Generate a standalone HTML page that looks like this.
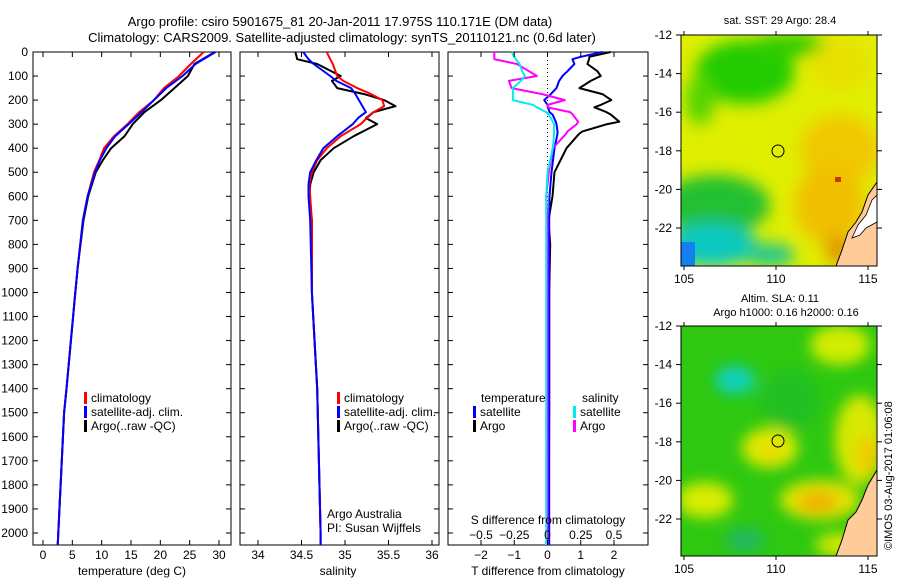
<!DOCTYPE html>
<html><head><meta charset="utf-8"><style>
html,body{margin:0;padding:0;background:#fff}
svg{display:block;font-family:"Liberation Sans",sans-serif}
text{fill:#000}
</style></head><body>
<svg id="fig" width="900" height="580" viewBox="0 0 900 580">
<defs>
<filter id="blur1" x="-20%" y="-20%" width="140%" height="140%"><feGaussianBlur stdDeviation="8"/></filter>
<filter id="blur2" x="-20%" y="-20%" width="140%" height="140%"><feGaussianBlur stdDeviation="7"/></filter>
<clipPath id="clipA"><rect x="681" y="35" width="196" height="231"/></clipPath>
<clipPath id="clipB"><rect x="681" y="326" width="196" height="230"/></clipPath>
</defs>
<text x="340" y="26" font-size="13" text-anchor="middle">Argo profile: csiro 5901675_81 20-Jan-2011 17.975S 110.171E (DM data)</text>
<text x="342" y="42" font-size="13" text-anchor="middle">Climatology: CARS2009. Satellite-adjusted climatology: synTS_20110121.nc (0.6d later)</text>

<g id="p1"></g>
<g id="p2"></g>
<g id="p3"></g>

<!-- SST map -->
<g>
<text x="780" y="24" font-size="11" text-anchor="middle">sat. SST: 29 Argo: 28.4</text>
<g clip-path="url(#clipA)">
<rect x="681" y="35" width="196" height="231" fill="#e0ee00"/>
<g filter="url(#blur1)">
<ellipse cx="745" cy="72" rx="50" ry="32" fill="#22cc00"/>
<ellipse cx="700" cy="100" rx="15" ry="25" fill="#55d400"/>
<ellipse cx="790" cy="45" rx="40" ry="12" fill="#33cc00"/>
<ellipse cx="840" cy="65" rx="30" ry="25" fill="#e8e000"/>
<ellipse cx="840" cy="150" rx="40" ry="35" fill="#f0c800"/>
<ellipse cx="830" cy="205" rx="35" ry="40" fill="#f0c000"/>
<ellipse cx="715" cy="205" rx="55" ry="30" fill="#22c030"/>
<ellipse cx="712" cy="245" rx="45" ry="22" fill="#11c8c0"/>
<ellipse cx="770" cy="255" rx="25" ry="12" fill="#22c890"/>
<ellipse cx="838" cy="250" rx="12" ry="15" fill="#e09000"/>
</g>
<rect x="681" y="242" width="14" height="24" fill="#1580f0"/>
<rect x="835" y="177" width="6" height="5" fill="#c04000"/>
<path d="M877,182 L868,195 L862,212 L856,222 L848,232 L842,250 L836,266 L877,266 Z" fill="#ffcc99" stroke="#000" stroke-width="1"/>
<path d="M877,195 L872,200 L866,215 L858,225 L852,238 L860,235 L866,228 L877,222 Z" fill="#fff" stroke="#000" stroke-width="0.8"/>
</g>
<rect x="681" y="35" width="196" height="231" fill="none" stroke="#000" stroke-width="1"/>
<circle cx="778" cy="151" r="6" fill="none" stroke="#000" stroke-width="1"/>
</g>

<!-- SLA map -->
<g>
<text x="780" y="302" font-size="11" text-anchor="middle">Altim. SLA: 0.11</text>
<text x="786" y="316" font-size="11" text-anchor="middle">Argo h1000: 0.16 h2000: 0.16</text>
<g clip-path="url(#clipB)">
<rect x="681" y="326" width="196" height="230" fill="#2ec810"/>
<g filter="url(#blur2)">
<ellipse cx="840" cy="345" rx="30" ry="20" fill="#d0ec00"/>
<ellipse cx="735" cy="380" rx="20" ry="14" fill="#10d0c0"/>
<ellipse cx="770" cy="448" rx="28" ry="20" fill="#e0ea00"/>
<ellipse cx="770" cy="452" rx="12" ry="8" fill="#ecd800"/>
<ellipse cx="860" cy="440" rx="25" ry="45" fill="#d8e800"/>
<ellipse cx="868" cy="455" rx="10" ry="20" fill="#f0c800"/>
<ellipse cx="820" cy="500" rx="40" ry="20" fill="#e0e400"/>
<ellipse cx="818" cy="502" rx="20" ry="11" fill="#f0b000"/>
<ellipse cx="705" cy="500" rx="28" ry="18" fill="#d8ec00"/>
<ellipse cx="745" cy="540" rx="20" ry="12" fill="#22b860"/>
<ellipse cx="840" cy="545" rx="25" ry="12" fill="#d0e800"/>
<ellipse cx="790" cy="400" rx="30" ry="30" fill="#20c020"/>
</g>
<path d="M877,470 L868,485 L862,500 L856,512 L848,520 L842,540 L836,556 L877,556 Z" fill="#ffcc99" stroke="#000" stroke-width="1"/>
</g>
<rect x="681" y="326" width="196" height="230" fill="none" stroke="#000" stroke-width="1"/>
<circle cx="778" cy="441" r="6" fill="none" stroke="#000" stroke-width="1"/>
</g>
<g id="maps-axes"></g>
<text transform="translate(892,550) rotate(-90)" font-size="11">©IMOS 03-Aug-2017 01:06:08</text>
</svg>
<script>
// ---- data ----
const tDepth = [0,50,100,150,200,250,300,350,400,450,500,600,700,900,1000,1400,1500,2000,2050];
const tClim  = [27.4,25.2,23.2,20.6,18.9,16.4,14.4,12.1,10.4,9.6,8.7,7.6,6.8,5.9,5.5,4.0,3.6,2.6,2.5];
const tSat   = [29.4,26.0,23.8,21.0,18.9,16.8,14.6,12.3,10.8,9.7,8.9,7.6,6.8,5.9,5.5,4.0,3.6,2.6,2.5];
const tArgo  = [29.3,25.8,24.7,22.4,20.1,17.3,15.3,13.9,11.6,10.2,9.0,7.7,6.9,5.9,5.5,4.0,3.6,2.6,2.5];

const sDepth = [0,30,50,100,120,150,175,200,225,250,275,300,350,400,450,500,550,600,700,1000,1400,2000,2050];
const sClim  = [34.79,34.83,34.86,34.91,34.98,35.14,35.3,35.43,35.45,35.33,35.25,35.18,34.95,34.79,34.68,34.62,34.59,34.6,34.62,34.62,34.68,34.72,34.72];
const sSat   = [34.52,34.58,34.64,34.83,34.9,35.07,35.12,35.16,35.2,35.24,35.15,35.09,34.91,34.75,34.67,34.6,34.58,34.58,34.6,34.62,34.68,34.72,34.72];
const sArgo  = [34.43,34.45,34.68,34.95,34.85,34.91,35.22,35.45,35.58,35.33,35.24,35.37,35.1,34.87,34.72,34.64,34.6,34.59,34.62,34.62,34.68,34.72,34.72];

const dDepth   = [0,20,30,50,80,100,120,150,175,200,220,230,250,260,290,300,330,340,400,500,600,700,800,1000,1500,2050];
const dTSat    = [1.65,1.0,0.75,0.81,0.6,0.45,0.35,0.27,0.1,-0.1,0.0,0.02,0.06,0.15,0.25,0.27,0.3,0.3,0.21,0.12,0.06,0.05,0.05,0.05,0.05,0.05];
const dTArgo   = [1.9,1.26,1.25,1.2,1.5,1.6,1.3,0.96,1.65,1.92,1.6,1.41,1.77,1.9,2.16,1.8,1.05,0.95,0.57,0.21,0.15,0.03,0.08,0.05,0.05,0.03];
const dSSat    = [-0.27,-0.25,-0.24,-0.21,-0.19,-0.17,-0.2,-0.26,-0.26,-0.26,-0.11,-0.08,-0.01,0.01,0.04,0.05,0.05,0.05,0.04,0.0,-0.01,-0.01,-0.01,-0.01,-0.01,-0.01];
const dSArgo   = [-0.4,-0.4,-0.4,-0.23,-0.14,-0.08,-0.29,-0.27,-0.04,0.13,0.0,0.0,0.17,0.19,0.23,0.22,0.15,0.14,0.04,0.01,-0.01,0.0,0.0,0.0,0.0,0.0];

const depthTicks = [0,100,200,300,400,500,600,700,800,900,1000,1100,1200,1300,1400,1500,1600,1700,1800,1900,2000];
const tTicks = [0,5,10,15,20,25,30];
const sTicks = [34,34.5,35,35.5,36];
const tdTicks = [-2,-1,0,1,2];
const sdTicks = [-0.5,-0.25,0,0.25,0.5];
const sdTickLabels = ['\u22120.5','\u22120.25','0','0.25','0.5'];
const tdTickLabels = ['\u22122','\u22121','0','1','2'];
const lonTicks = [105,110,115];
const latTicks = [-12,-14,-16,-18,-20,-22];

const NS='http://www.w3.org/2000/svg';
function mk(tag, attrs, parent){const e=document.createElementNS(NS,tag);for(const k in attrs)e.setAttribute(k,attrs[k]);parent.appendChild(e);return e;}
function txt(s,attrs,parent){const e=mk('text',attrs,parent);e.textContent=s;return e;}

const Y0=52, Y1=545, DMAX=2050;
const sy = d => Y0 + d/DMAX*(Y1-Y0);

function axisLinear(x0,x1,v0,v1){return v=>x0+(v-v0)/(v1-v0)*(x1-x0);}

function frame(g,x0,x1,name){
  const r=mk('rect',{x:x0,y:Y0,width:x1-x0,height:Y1-Y0,fill:'none',stroke:'#000','stroke-width':1},g);
  
  
  depthTicks.forEach(d=>{
    mk('line',{x1:x0,x2:x0+5,y1:sy(d),y2:sy(d),stroke:'#000'},g);
    mk('line',{x1:x1,x2:x1-5,y1:sy(d),y2:sy(d),stroke:'#000'},g);
  });
}
function line(g,xs,ds,sx,color,name,w){
  const pts=xs.map((v,i)=>sx(v).toFixed(1)+','+sy(ds[i]).toFixed(1)).join(' ');
  const p=mk('polyline',{points:pts,fill:'none',stroke:color,'stroke-width':w||2,'stroke-linejoin':'round'},g);
  
  
}
function xticks(g,ticks,labels,sx,yLab,top){
  ticks.forEach((t,i)=>{
    mk('line',{x1:sx(t),x2:sx(t),y1:Y1,y2:Y1-5,stroke:'#000'},g);
    if(top) mk('line',{x1:sx(t),x2:sx(t),y1:Y0,y2:Y0+5,stroke:'#000'},g);
    const e=txt(labels[i],{x:sx(t),y:yLab,'font-size':12,'text-anchor':'middle'},g);
    
    
  });
}
function legend(g,x,y,items){
  items.forEach((it,i)=>{
    mk('rect',{x:x,y:y+i*14-10,width:3,height:12,fill:it[1]},g);
    const e=txt(it[0],{x:x+7,y:y+i*14,'font-size':12},g);
    
    
  });
}

// Panel 1
const g1=document.getElementById('p1');
const sx1=axisLinear(43,219,0,30);
frame(g1,33,231,'temperature-plot-frame');
depthTicks.forEach(d=>{const e=txt(String(d),{x:28,y:sy(d)+4,'font-size':12,'text-anchor':'end'},g1);
  
  });
line(g1,tArgo,tDepth,sx1,'#000','temp-argo-line');
line(g1,tClim,tDepth,sx1,'#f00','temp-climatology-line');
line(g1,tSat,tDepth,sx1,'#00f','temp-satellite-line');
xticks(g1,tTicks,tTicks.map(String),sx1,559,true);
txt('temperature (deg C)',{x:132,y:575,'font-size':12,'text-anchor':'middle'},g1);
legend(g1,84,402,[['climatology','#f00'],['satellite-adj. clim.','#00f'],['Argo(..raw -QC)','#000']]);

// Panel 2
const g2=document.getElementById('p2');
const sx2=axisLinear(258,432,34,36);
frame(g2,240,439,'salinity-plot-frame');
line(g2,sArgo,sDepth,sx2,'#000','sal-argo-line');
line(g2,sClim,sDepth,sx2,'#f00','sal-climatology-line');
line(g2,sSat,sDepth,sx2,'#00f','sal-satellite-line');
xticks(g2,sTicks,sTicks.map(String),sx2,559,true);
txt('salinity',{x:338,y:575,'font-size':12,'text-anchor':'middle'},g2);
legend(g2,337,402,[['climatology','#f00'],['satellite-adj. clim.','#00f'],['Argo(..raw -QC)','#000']]);
txt('Argo Australia',{x:327,y:518,'font-size':12},g2);
txt('PI: Susan Wijffels',{x:327,y:532,'font-size':12},g2);

// Panel 3
const g3=document.getElementById('p3');
const sxT=axisLinear(481,614,-2,2);
const sxS=axisLinear(481,614,-0.5,0.5);
frame(g3,448,648,'difference-plot-frame');
for(let y=Y0;y<Y1;y+=4) mk('line',{x1:sxT(0),x2:sxT(0),y1:y,y2:y+1,stroke:'#000'},g3);
line(g3,dTArgo,dDepth,sxT,'#000','tdiff-argo-line');
line(g3,dTSat,dDepth,sxT,'#00f','tdiff-satellite-line');
line(g3,dSArgo,dDepth,sxS,'#f0f','sdiff-argo-line');
line(g3,dSSat,dDepth,sxS,'#0ee','sdiff-satellite-line');
xticks(g3,tdTicks,tdTickLabels,sxT,559,true);
sdTicks.forEach((t,i)=>{const e=txt(sdTickLabels[i],{x:sxS(t),y:539,'font-size':12,'text-anchor':'middle'},g3);
  
  });
txt('S difference from climatology',{x:548,y:524,'font-size':12,'text-anchor':'middle'},g3);
txt('T difference from climatology',{x:548,y:575,'font-size':12,'text-anchor':'middle'},g3);
txt('temperature',{x:481,y:402,'font-size':12},g3);
txt('salinity',{x:582,y:402,'font-size':12},g3);
legend(g3,473,416,[['satellite','#00f'],['Argo','#000']]);
legend(g3,573,416,[['satellite','#0ee'],['Argo','#f0f']]);

// map axes
const gm=document.getElementById('maps-axes');
const lx=axisLinear(684,868,105,115);
[[35,'a'],[326,'b']].forEach(([top,k])=>{
  const ly=v=>top+(-12-v)*19.3;
  latTicks.forEach(v=>{
    mk('line',{x1:676,x2:681,y1:ly(v),y2:ly(v),stroke:'#000'},gm);
    mk('line',{x1:877,x2:882,y1:ly(v),y2:ly(v),stroke:'#000'},gm);
    const e=txt(String(v),{x:672,y:ly(v)+4,'font-size':12,'text-anchor':'end'},gm);
    
    
  });
  const bot=top+(k==='a'?231:230);
  lonTicks.forEach(v=>{
    mk('line',{x1:lx(v),x2:lx(v),y1:bot,y2:bot+4,stroke:'#000'},gm);
    mk('line',{x1:lx(v),x2:lx(v),y1:top,y2:top-4,stroke:'#000'},gm);
    const e=txt(String(v),{x:lx(v),y:bot+17,'font-size':12,'text-anchor':'middle'},gm);
    
    
  });
});
</script>
</body></html>
